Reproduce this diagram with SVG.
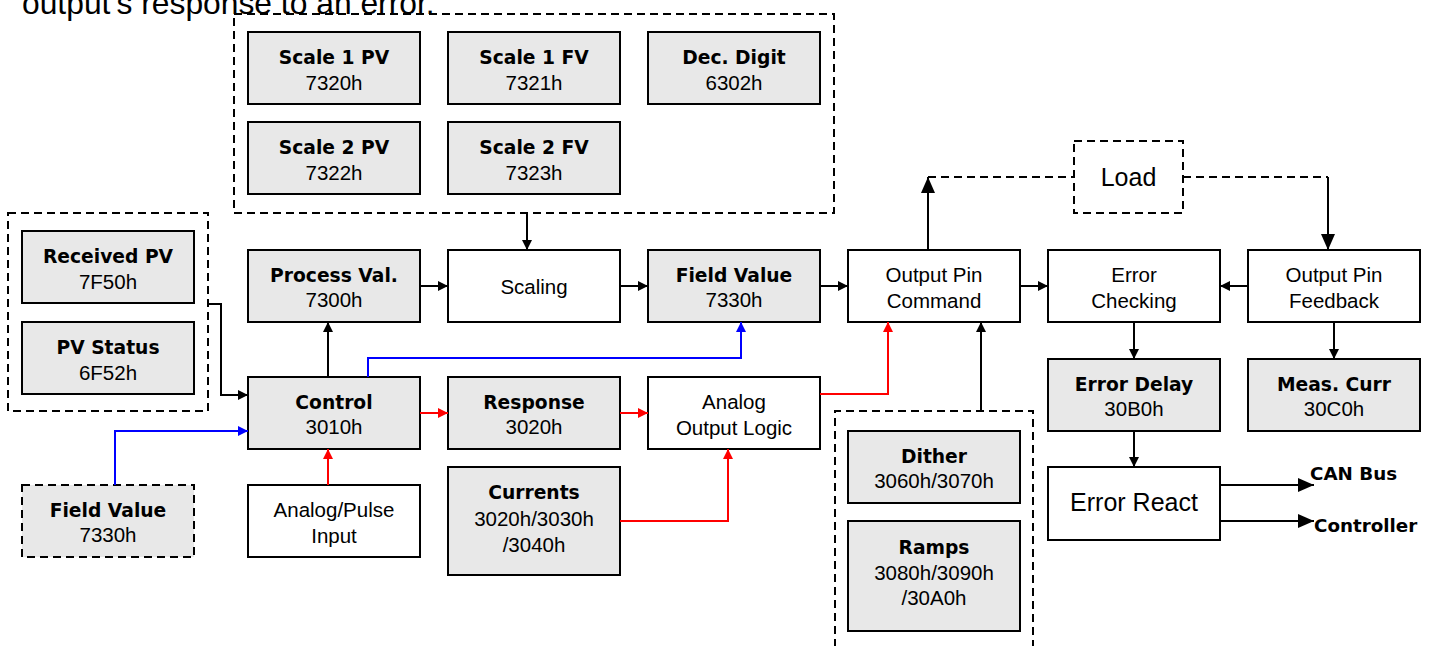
<svg xmlns="http://www.w3.org/2000/svg" width="1435" height="646" viewBox="0 0 1435 646">
<style>
.box{stroke:#000;stroke-width:2;fill:#e8e8e8}
.wb{stroke:#000;stroke-width:2;fill:#fff}
.dash{stroke:#000;stroke-width:2;fill:none;stroke-dasharray:8 5}
.dashf{stroke:#000;stroke-width:2;fill:#e8e8e8;stroke-dasharray:8 5}
.t{font-family:"DejaVu Sans",sans-serif;font-weight:bold;font-size:18.7px;text-anchor:middle;fill:#000}
.s{font-family:"Liberation Sans",Arial,sans-serif;font-size:20.5px;text-anchor:middle;fill:#000}
.big{font-family:"Liberation Sans",Arial,sans-serif;font-size:25px;text-anchor:middle;fill:#000}
.lbl{font-family:"DejaVu Sans",sans-serif;font-weight:bold;font-size:18.3px;fill:#000}
.k{stroke:#000;stroke-width:2;fill:none}
.r{stroke:#f00;stroke-width:2;fill:none}
.b{stroke:#00f;stroke-width:2;fill:none}
</style>
<defs>
<marker id="ak" markerUnits="userSpaceOnUse" markerWidth="10" markerHeight="10" refX="10" refY="5" orient="auto"><path d="M0,0 L10,5 L0,10 z" fill="#000"/></marker>
<marker id="ar" markerUnits="userSpaceOnUse" markerWidth="10" markerHeight="10" refX="10" refY="5" orient="auto"><path d="M0,0 L10,5 L0,10 z" fill="#f00"/></marker>
<marker id="ab" markerUnits="userSpaceOnUse" markerWidth="10" markerHeight="10" refX="10" refY="5" orient="auto"><path d="M0,0 L10,5 L0,10 z" fill="#00f"/></marker>
<marker id="aK" markerUnits="userSpaceOnUse" markerWidth="16" markerHeight="14" refX="16" refY="7" orient="auto"><path d="M0,0 L16,7 L0,14 z" fill="#000"/></marker>
</defs>
<rect width="1435" height="646" fill="#fff"/>
<text x="22" y="14" font-family="Liberation Sans, Arial, sans-serif" font-size="31.8" fill="#000">output's response to an error.</text>

<g id="scale-group"><rect class="dash" x="234" y="14" width="600" height="199"/></g>
<g id="pv-group"><rect class="dash" x="8" y="213" width="200" height="198"/></g>
<g id="dither-group"><path class="dash" d="M835,660 V411 H1033 V660"/></g>

<g id="scale1pv"><rect class="box" x="248" y="32" width="172" height="72"/><text class="t" x="334" y="63.5">Scale 1 PV</text><text class="s" x="334" y="90">7320h</text></g>
<g id="scale1fv"><rect class="box" x="448" y="32" width="172" height="72"/><text class="t" x="534" y="63.5">Scale 1 FV</text><text class="s" x="534" y="90">7321h</text></g>
<g id="decdigit"><rect class="box" x="648" y="32" width="172" height="72"/><text class="t" x="734" y="63.5">Dec. Digit</text><text class="s" x="734" y="90">6302h</text></g>
<g id="scale2pv"><rect class="box" x="248" y="122" width="172" height="72"/><text class="t" x="334" y="153.5">Scale 2 PV</text><text class="s" x="334" y="180">7322h</text></g>
<g id="scale2fv"><rect class="box" x="448" y="122" width="172" height="72"/><text class="t" x="534" y="153.5">Scale 2 FV</text><text class="s" x="534" y="180">7323h</text></g>

<g id="receivedpv"><rect class="box" x="22" y="231" width="172" height="72"/><text class="t" x="108" y="262.5">Received PV</text><text class="s" x="108" y="289">7F50h</text></g>
<g id="pvstatus"><rect class="box" x="22" y="322" width="172" height="72"/><text class="t" x="108" y="353.5">PV Status</text><text class="s" x="108" y="380">6F52h</text></g>

<g id="processval"><rect class="box" x="248" y="250" width="172" height="72"/><text class="t" x="334" y="281.5">Process Val.</text><text class="s" x="334" y="307">7300h</text></g>
<g id="scaling"><rect class="wb" x="448" y="250" width="172" height="72"/><text class="s" x="534" y="294">Scaling</text></g>
<g id="fieldvalue"><rect class="box" x="648" y="250" width="172" height="72"/><text class="t" x="734" y="281.5">Field Value</text><text class="s" x="734" y="307">7330h</text></g>
<g id="opc"><rect class="wb" x="848" y="250" width="172" height="72"/><text class="s" x="934" y="282">Output Pin</text><text class="s" x="934" y="308">Command</text></g>
<g id="errorcheck"><rect class="wb" x="1048" y="250" width="172" height="72"/><text class="s" x="1134" y="282">Error</text><text class="s" x="1134" y="308">Checking</text></g>
<g id="opf"><rect class="wb" x="1248" y="250" width="172" height="72"/><text class="s" x="1334" y="282">Output Pin</text><text class="s" x="1334" y="308">Feedback</text></g>

<g id="load"><rect class="dash" x="1074" y="141" width="109" height="72"/><text class="big" x="1128.5" y="186">Load</text></g>

<g id="control"><rect class="box" x="248" y="377" width="172" height="72"/><text class="t" x="334" y="408.5">Control</text><text class="s" x="334" y="434">3010h</text></g>
<g id="response"><rect class="box" x="448" y="377" width="172" height="72"/><text class="t" x="534" y="408.5">Response</text><text class="s" x="534" y="434">3020h</text></g>
<g id="aol"><rect class="wb" x="648" y="377" width="172" height="72"/><text class="s" x="734" y="409">Analog</text><text class="s" x="734" y="435">Output Logic</text></g>

<g id="fieldvalue-in"><rect class="dashf" x="22" y="485" width="172" height="72"/><text class="t" x="108" y="516.5">Field Value</text><text class="s" x="108" y="542">7330h</text></g>
<g id="analogpulse"><rect class="wb" x="248" y="485" width="172" height="72"/><text class="s" x="334" y="517">Analog/Pulse</text><text class="s" x="334" y="543">Input</text></g>
<g id="currents"><rect class="box" x="448" y="467" width="172" height="108"/><text class="t" x="534" y="498.5">Currents</text><text class="s" x="534" y="526">3020h/3030h</text><text class="s" x="534" y="552">/3040h</text></g>

<g id="dither"><rect class="box" x="848" y="431" width="172" height="72"/><text class="t" x="934" y="462.5">Dither</text><text class="s" x="934" y="488">3060h/3070h</text></g>
<g id="ramps"><rect class="box" x="848" y="521" width="172" height="110"/><text class="t" x="934" y="553.5">Ramps</text><text class="s" x="934" y="580">3080h/3090h</text><text class="s" x="934" y="605">/30A0h</text></g>

<g id="errordelay"><rect class="box" x="1048" y="359" width="172" height="72"/><text class="t" x="1134" y="390.5">Error Delay</text><text class="s" x="1134" y="416">30B0h</text></g>
<g id="meascurr"><rect class="box" x="1248" y="359" width="172" height="72"/><text class="t" x="1334" y="390.5">Meas. Curr</text><text class="s" x="1334" y="416">30C0h</text></g>
<g id="errorreact"><rect class="wb" x="1048" y="467" width="172" height="73"/><text class="big" x="1134" y="511">Error React</text></g>

<g id="labels"><text class="lbl" x="1310" y="480">CAN Bus</text><text class="lbl" x="1314" y="532">Controller</text></g>

<g id="connectors">
<path class="k" d="M527,213 V250" marker-end="url(#ak)"/>
<path class="k" d="M420,286 H448" marker-end="url(#ak)"/>
<path class="k" d="M620,286 H648" marker-end="url(#ak)"/>
<path class="k" d="M820,286 H848" marker-end="url(#ak)"/>
<path class="k" d="M1020,286 H1048" marker-end="url(#ak)"/>
<path class="k" d="M1248,286 H1220" marker-end="url(#ak)"/>
<path class="k" d="M328,377 V322" marker-end="url(#ak)"/>
<path class="k" d="M208,304 H221 V395 H248" marker-end="url(#ak)"/>
<path class="b" d="M368,377 V358 H741 V322" marker-end="url(#ab)"/>
<path class="b" d="M115,485 V431 H248" marker-end="url(#ab)"/>
<path class="r" d="M328,485 V449" marker-end="url(#ar)"/>
<path class="r" d="M420,413 H448" marker-end="url(#ar)"/>
<path class="r" d="M620,413 H648" marker-end="url(#ar)"/>
<path class="r" d="M620,521 H728 V449" marker-end="url(#ar)"/>
<path class="r" d="M820,394 H888 V322" marker-end="url(#ar)"/>
<path class="k" d="M981,411 V322" marker-end="url(#ak)"/>
<path class="k" d="M928,250 V177" marker-end="url(#aK)"/>
<path class="dash" d="M928,177 H1074"/>
<path class="dash" d="M1183,177 H1328"/>
<path class="k" d="M1328,177 V250" marker-end="url(#aK)"/>
<path class="k" d="M1134,322 V359" marker-end="url(#ak)"/>
<path class="k" d="M1334,322 V359" marker-end="url(#ak)"/>
<path class="k" d="M1134,431 V467" marker-end="url(#ak)"/>
<path class="k" d="M1220,485 H1314" marker-end="url(#aK)"/>
<path class="k" d="M1220,521 H1314" marker-end="url(#aK)"/>
</g>
</svg>
